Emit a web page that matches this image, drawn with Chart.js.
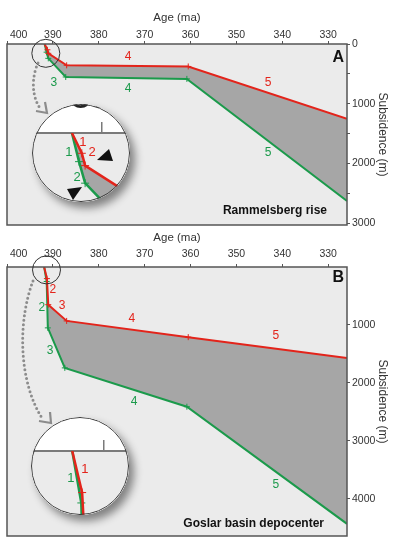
<!DOCTYPE html>
<html>
<head>
<meta charset="utf-8">
<script src="https://cdn.jsdelivr.net/npm/chart.js@4.4.1/dist/chart.umd.min.js"></script>
<style>
  body { margin: 0; background: #fff; }
  #page { position: relative; width: 397px; height: 550px; overflow: hidden; }
  #chartA { position: absolute; left: 0; top: 0; }
  #chartB { position: absolute; left: 0; top: 230px; }
  #overlay { position: absolute; left: 0; top: 0; z-index: 1; }
  .loupe { position: absolute; width: 98px; height: 98px; border-radius: 50%; overflow: hidden;
           background: #fff; box-shadow: 5px 6px 8px rgba(0,0,0,0.45); z-index: 2; }
  .loupe canvas { position: absolute; left: 0; top: 0; }
  .loupe::after { content: ''; position: absolute; left: 0; top: 0; right: 0; bottom: 0;
                  border-radius: 50%; border: 1px solid #3a3a3a; }
  #loupeA { left: 32px; top: 104px; }
  #loupeB { left: 31px; top: 417px; }
  #marks { position: absolute; left: 0; top: 0; z-index: 3; }
</style>
</head>
<body>
<div id="page">
  <canvas id="chartA" width="397" height="232"></canvas>
  <canvas id="chartB" width="397" height="320"></canvas>
  <svg id="overlay" width="397" height="550">
    <g stroke="#8c8c8c" fill="none" stroke-width="3" stroke-linecap="round">
      <path d="M38,63 C32,76 31,95 40,108" stroke-dasharray="0 4.5"/>
      <path d="M33,281 C18,320 18,380 42,418" stroke-dasharray="0 4.5"/>
    </g>
    <g stroke="#8c8c8c" fill="none" stroke-width="2.2" stroke-linejoin="miter">
      <polyline points="36,111 47,113 45,102"/>
      <polyline points="39,421 51,423 50,412"/>
    </g>
  </svg>
  <div class="loupe" id="loupeA"><canvas id="insetA" width="98" height="98"></canvas></div>
  <div class="loupe" id="loupeB"><canvas id="insetB" width="98" height="98"></canvas></div>
  <svg id="marks" width="397" height="550">
    <polygon points="97,160 109,149 113,161" fill="#111"/>
    <polygon points="67,189 82,187 73,200" fill="#111"/>
  </svg>
</div>
<script>
// ages (ma) and subsidence (m)
const xTicks = [400, 390, 380, 370, 360, 350, 340, 330];
const yTicksA = [0, 500, 1000, 1500, 2000, 2500, 3000];
const yTicksB = [1000, 2000, 3000, 4000];

// A: Rammelsberg rise
const redAgeA = [391.8, 391.2, 391.0, 387.0, 360.5, 325.9];
const redDepthA = [0, 97, 156, 357, 376, 1252];
const greenAgeA = [391.8, 391.37, 391.0, 387.2, 360.8, 325.9];
const greenDepthA = [0, 137, 240, 552, 584, 2627];

// B: Goslar basin depocenter
const redAgeB = [391.9, 391.3, 391.0, 387.0, 360.5, 325.9];
const redDepthB = [0, 200, 650, 930, 1210, 1570];
const greenAgeB = [391.9, 391.35, 391.1, 387.4, 360.8, 325.9];
const greenDepthB = [0, 250, 1050, 1740, 2410, 4430];

// segment numbers: [text, age, depth, series]
const segLabelsA = [
  ['4', 373.6, 218, 'r'], ['5', 343.1, 653, 'r'],
  ['3', 389.8, 653, 'g'], ['4', 373.6, 753, 'g'], ['5', 343.1, 1825, 'g'],
];
const segLabelsB = [
  ['2', 390.0, 397, 'r'], ['3', 388.0, 673, 'r'], ['4', 372.8, 897, 'r'], ['5', 341.4, 1190, 'r'],
  ['2', 392.4, 707, 'g'], ['3', 390.6, 1449, 'g'], ['4', 372.3, 2329, 'g'], ['5', 341.4, 3761, 'g'],
];
const insetLabelsA = [
  ['1', 391.13, 43, 'r'], ['2', 390.58, 91, 'r'], ['1', 391.98, 91, 'g'], ['2', 391.49, 211, 'g'],
];
const insetLabelsB = [
  ['1', 391.13, 88, 'r'], ['1', 391.98, 131, 'g'],
];

const RED = '#e3241b';
const GREEN = '#1b9a4b';
const FILL = '#a6a6a6';
const PLOT_BG = '#ebebeb';
const AXIS = '#555';
const FONT = 'Arial, "Liberation Sans", sans-serif';

function pts(ages, depths) {
  return ages.map((a, i) => ({ x: a, y: depths[i] }));
}

function tickRadii(n, r) {
  return Array.from({ length: n }, (_, i) => (i === 0 || i === n - 1 ? 0 : r));
}

function lineSets(red, green, width, r) {
  const common = { fill: false, tension: 0, pointStyle: 'cross', pointBorderWidth: 1, pointHoverRadius: 0 };
  return [
    Object.assign({}, common, {
      data: red, borderColor: RED, borderWidth: width,
      pointRadius: tickRadii(red.length, r), pointBorderColor: RED,
    }),
    Object.assign({}, common, {
      data: green, borderColor: GREEN, borderWidth: width, fill: '-1', backgroundColor: FILL,
      pointRadius: tickRadii(green.length, r), pointBorderColor: GREEN,
    }),
  ];
}

const decor = {
  id: 'decor',
  beforeDraw(chart, args, o) {
    const a = chart.chartArea, ctx = chart.ctx;
    ctx.save();
    ctx.fillStyle = PLOT_BG;
    ctx.fillRect(a.left, a.top, a.right - a.left, a.bottom - a.top);
    ctx.restore();
  },
  afterDraw(chart, args, o) {
    const a = chart.chartArea, ctx = chart.ctx;
    const xs = chart.scales.x, ys = chart.scales.y;
    ctx.save();
    if (o.box) {
      ctx.strokeStyle = AXIS;
      ctx.lineWidth = 1.5;
      ctx.strokeRect(a.left, a.top, a.right - a.left, a.bottom - a.top);
    }
    ctx.font = o.labelSize + 'px ' + FONT;
    ctx.textAlign = 'center';
    ctx.textBaseline = 'middle';
    (o.labels || []).forEach((l) => {
      ctx.fillStyle = l[3] === 'r' ? RED : GREEN;
      ctx.fillText(l[0], xs.getPixelForValue(l[1]), ys.getPixelForValue(l[2]));
    });
    if (o.loupe) {
      ctx.beginPath();
      ctx.arc(xs.getPixelForValue(o.loupe[0]), ys.getPixelForValue(o.loupe[1]), o.loupe[2], 0, Math.PI * 2);
      ctx.strokeStyle = '#333';
      ctx.lineWidth = 1;
      ctx.stroke();
    }
    if (o.letter) {
      ctx.fillStyle = '#111';
      ctx.font = 'bold 16px ' + FONT;
      ctx.textAlign = 'right';
      ctx.textBaseline = 'alphabetic';
      ctx.fillText(o.letter, a.right - 3, a.top + o.letterDy);
      ctx.font = 'bold 12px ' + FONT;
      ctx.fillText(o.title, a.right - o.titleDx, a.bottom - o.titleDy);
    }
    ctx.restore();
  },
};

function mainChart(id, red, green, p) {
  return new Chart(document.getElementById(id), {
    type: 'line',
    data: { datasets: lineSets(red, green, 2, 3) },
    plugins: [decor],
    options: {
      responsive: false,
      animation: false,
      events: [],
      layout: { padding: { left: 7, right: 7, top: p.padTop, bottom: p.padBottom } },
      plugins: {
        legend: { display: false },
        tooltip: { enabled: false },
        decor: {
          box: true, labels: p.labels, labelSize: 12, loupe: p.loupe,
          letter: p.letter, letterDy: p.letterDy, title: p.title, titleDx: p.titleDx, titleDy: p.titleDy,
        },
      },
      scales: {
        x: {
          type: 'linear', position: 'top', reverse: true, min: 325.9, max: 400,
          afterBuildTicks: (s) => { s.ticks = xTicks.map((v) => ({ value: v })); },
          afterFit: (s) => { s.height = p.axisH; s.paddingLeft = 0; s.paddingRight = 0; },
          border: { display: false },
          grid: { drawOnChartArea: false, tickLength: 3, color: AXIS },
          ticks: {
            color: '#333', font: { size: 10.5, family: FONT }, padding: p.tickPad,
            maxRotation: 0, minRotation: 0, autoSkip: false,
            callback: (v) => (v === 400 ? '\u2007\u2007\u2007\u2007400' : String(v)),
          },
          title: {
            display: true, text: 'Age (ma)', color: '#333',
            font: { size: 11.5, family: FONT }, padding: { top: p.titlePad, bottom: 0 },
          },
        },
        y: {
          type: 'linear', position: 'right', reverse: true, min: 0, max: p.yMax,
          afterBuildTicks: (s) => { s.ticks = p.yTicks.map((v) => ({ value: v })); },
          afterFit: (s) => { s.width = 43; s.paddingTop = 0; s.paddingBottom = 0; },
          border: { display: false },
          grid: { drawOnChartArea: false, tickLength: 3, color: AXIS },
          ticks: {
            color: '#333', font: { size: 10.5, family: FONT }, padding: 2, autoSkip: false,
            callback: (v) => (v % 1000 === 0 ? String(v) : ''),
          },
          title: {
            display: true, text: 'Subsidence (m)', color: '#333',
            font: { size: 12, family: FONT }, padding: 0,
          },
        },
      },
    },
  });
}

function insetChart(id, red, green, p) {
  return new Chart(document.getElementById(id), {
    type: 'line',
    data: { datasets: lineSets(red, green, 2.5, 4) },
    plugins: [decor],
    options: {
      responsive: false,
      animation: false,
      events: [],
      layout: { padding: 0 },
      plugins: {
        legend: { display: false },
        tooltip: { enabled: false },
        decor: { box: false, labels: p.labels, labelSize: 13 },
      },
      scales: {
        x: {
          type: 'linear', position: 'top', reverse: true, min: p.xMin, max: p.xMax,
          afterBuildTicks: (s) => {
            s.ticks = xTicks.filter((v) => v > p.xMin && v < p.xMax).map((v) => ({ value: v }));
          },
          afterFit: (s) => { s.height = p.axisH; s.paddingLeft = 0; s.paddingRight = 0; },
          border: { display: true, color: '#7a7a7a', width: 2 },
          grid: { drawOnChartArea: false, tickLength: 11, color: '#7a7a7a', lineWidth: 1.5 },
          ticks: {
            color: p.showTick ? '#222' : 'rgba(0,0,0,0)', font: { size: 38, family: FONT },
            padding: 2, maxRotation: 0, minRotation: 0, autoSkip: false,
          },
        },
        y: { display: false, min: 0, max: p.yMax, reverse: true },
      },
    },
  });
}

mainChart('chartA', pts(redAgeA, redDepthA), pts(greenAgeA, greenDepthA), {
  padTop: 4, padBottom: 7, axisH: 40, tickPad: 0, titlePad: 7,
  yMax: 3030, yTicks: yTicksA, labels: segLabelsA, loupe: [391.54, 156, 14],
  letter: 'A', letterDy: 17.5, title: 'Rammelsberg rise', titleDx: 20, titleDy: 11,
});

mainChart('chartB', pts(redAgeB, redDepthB), pts(greenAgeB, greenDepthB), {
  padTop: 0, padBottom: 14, axisH: 37, tickPad: 4, titlePad: 1,
  yMax: 4640, yTicks: yTicksB, labels: segLabelsB, loupe: [391.39, 50, 14],
  letter: 'B', letterDy: 14.5, title: 'Goslar basin depocenter', titleDx: 23, titleDy: 9.5,
});

insetChart('insetA', pts(redAgeA, redDepthA), pts(greenAgeA, greenDepthA), {
  xMin: 388.28, xMax: 394.22, yMax: 330, axisH: 29, showTick: true, labels: insetLabelsA,
});

insetChart('insetB', pts(redAgeB, redDepthB), pts(greenAgeB, greenDepthB), {
  xMin: 388.46, xMax: 394.4, yMax: 308, axisH: 34, showTick: false, labels: insetLabelsB,
});
</script>
</body>
</html>
